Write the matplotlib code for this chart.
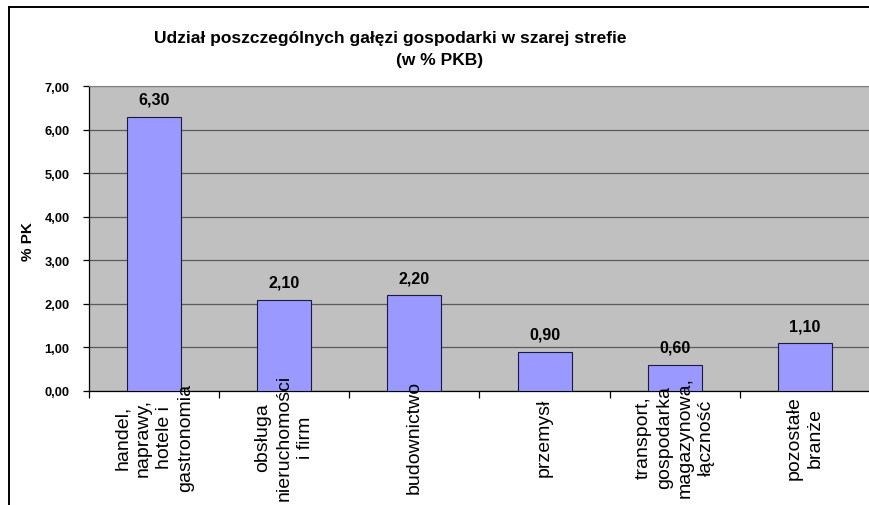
import matplotlib
matplotlib.use("Agg")
import matplotlib.pyplot as plt
import matplotlib.transforms as mtransforms
from matplotlib.lines import Line2D

plt.rcParams['font.family'] = ['Liberation Sans', 'DejaVu Sans']

# data
categories = ["handel,\nnaprawy,\nhotele i\ngastronomia",
              "obsługa\nnieruchomości\ni firm",
              "budownictwo",
              "przemysł",
              "transport,\ngospodarka\nmagazynowa,\nłączność",
              "pozostałe\nbranże"]
values = [6.30, 2.10, 2.20, 0.90, 0.60, 1.10]
yticks = [0, 1, 2, 3, 4, 5, 6, 7]

fig = plt.figure(figsize=(8.7, 5.06), dpi=100)
fig.patch.set_facecolor("white")
ax = fig.add_axes([89 / 870, 1 - 392 / 506, 1 - 89 / 870, 305 / 506])
ax.set_facecolor("#c0c0c0")

x = list(range(len(values)))
bars = ax.bar(x, values, width=0.415, color="#9999ff", edgecolor="#1a1a40",
              linewidth=0.8, zorder=3)

# gridlines
ax.set_ylim(0, 7)
ax.set_xlim(-0.5, len(values) - 0.5)
ax.set_yticks(yticks)
ax.set_yticklabels(["{:.2f}".format(v).replace(".", ",") for v in yticks],
                   fontsize=9.3, fontweight="bold")
ax.yaxis.grid(True, color="#5a5a5a", linewidth=0.9, zorder=1)
ax.tick_params(axis="y", direction="out", length=4, width=0.9, pad=10)

# category boundary ticks
ax.set_xticks([i - 0.5 for i in range(len(values) + 1)])
ax.set_xticklabels([])
ax.tick_params(axis="x", direction="out", length=5, width=0.9)

for s in ["top", "right"]:
    ax.spines[s].set_color("#808080")
for s in ["left", "bottom"]:
    ax.spines[s].set_color("black")
    ax.spines[s].set_linewidth(0.9)

# value labels
for xi, v in zip(x, values):
    ax.annotate("{:.2f}".format(v).replace(".", ","), (xi, v),
                xytext=(0, 12.5), textcoords="offset points",
                ha="center", va="center", fontsize=11.5, fontweight="bold",
                zorder=4)

# rotated category labels
trans = mtransforms.blended_transform_factory(ax.transData, ax.transAxes)
for xi, lab in zip(x, categories):
    ax.text(xi, -0.15, lab, transform=trans, rotation=90, ha="center",
            va="center", multialignment="center", fontsize=14,
            linespacing=1.32, clip_on=False)

# titles
fig.text(390 / 870, 1 - 38 / 506,
         "Udział poszczególnych gałęzi gospodarki w szarej strefie",
         ha="center", va="center", fontsize=12.5, fontweight="bold")
fig.text(440 / 870, 1 - 60 / 506, "(w % PKB)",
         ha="center", va="center", fontsize=12.5, fontweight="bold")

# y label
fig.text(28 / 870, 1 - 242 / 506, "% PK", rotation=90, ha="center",
         va="center", fontsize=11, fontweight="bold")

# chart frame
fig.add_artist(Line2D([9 / 870, 9 / 870], [0, 1 - 7.5 / 506],
                      transform=fig.transFigure, color="black", linewidth=1.4))
fig.add_artist(Line2D([9 / 870, 1], [1 - 7.5 / 506, 1 - 7.5 / 506],
                      transform=fig.transFigure, color="black", linewidth=1.4))

plt.savefig("out.png", dpi=100)
